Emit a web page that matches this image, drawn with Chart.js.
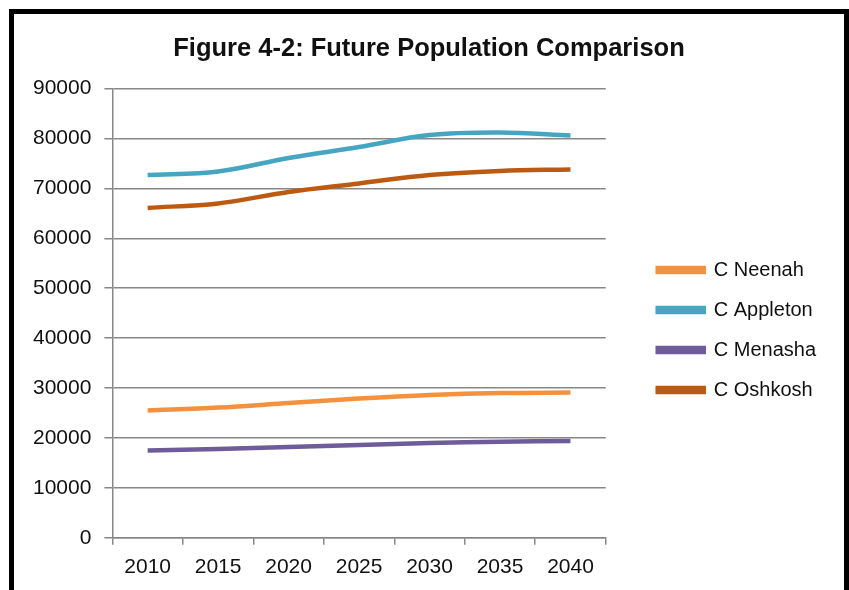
<!DOCTYPE html>
<html>
<head>
<meta charset="utf-8">
<script src="https://cdn.jsdelivr.net/npm/chart.js@4.4.1/dist/chart.umd.min.js"></script>
<style>
  html, body { margin: 0; padding: 0; background: #fff; }
  #wrap { position: relative; width: 849px; height: 590px; overflow: hidden; }
  #cadre { position: absolute; left: 9px; top: 9px; width: 830px; height: 600px;
           border: 5px solid #000; pointer-events: none; }
</style>
</head>
<body>
<div id="wrap">
  <canvas id="grafico" width="849" height="590"></canvas>
  <div id="cadre"></div>
</div>
<script>
// Proyecciones de población
const anios = ['2010', '2015', '2020', '2025', '2030', '2035', '2040'];
const neenah   = [25500, 26100, 27000, 27900, 28600, 29000, 29100];
const appleton = [72700, 73400, 76100, 78300, 80700, 81200, 80600];
const menasha  = [17500, 17800, 18200, 18600, 19000, 19250, 19400];
const oshkosh  = [66100, 67000, 69300, 71000, 72700, 73500, 73800];
const tituloTexto = 'Figure 4-2: Future Population Comparison';

const serie = (label, data, color) => ({
    label, data, borderColor: color, backgroundColor: color,
    borderWidth: 4.5, pointRadius: 0, tension: 0.35, fill: false
});

const gris = '#878787';
const fuente = { family: "'Liberation Sans', Arial, sans-serif", size: 21 };

/** Separa la leyenda del área de trazado y centra el título como en el original */
const moverLeyenda = {
    id: 'moverLeyenda',
    afterLayout(chart) {
        const lg = chart.legend;
        lg.left += 32; lg.right += 32;
        lg.top += 18; lg.bottom += 18;
        const t = chart.titleBlock;
        t.left += 22; t.right += 22;
    }
};

new Chart(document.getElementById('grafico'), {
    type: 'line',
    data: {
        labels: anios,
        datasets: [
            serie('C Neenah', neenah, '#F4913F'),
            serie('C Appleton', appleton, '#46A6C2'),
            serie('C Menasha', menasha, '#6E5C9A'),
            serie('C Oshkosh', oshkosh, '#BD5A12')
        ]
    },
    plugins: [moverLeyenda],
    options: {
        responsive: false, animation: false,
        layout: { padding: { left: 20, right: 55, top: 34, bottom: 0 } },
        plugins: {
            title: {
                display: true, text: tituloTexto, color: '#111',
                font: { family: fuente.family, size: 25.5, weight: 'bold' },
                padding: { top: 0, bottom: 24 }
            },
            legend: {
                position: 'right',
                labels: {
                    color: '#111', font: { family: fuente.family, size: 20 },
                    boxWidth: 46, boxHeight: 4, padding: 20
                }
            },
            tooltip: { enabled: false }
        },
        scales: {
            x: {
                offset: true,
                grid: { offset: true, drawOnChartArea: false, color: gris, lineWidth: 1.5, tickLength: 7 },
                border: { color: gris, width: 1.5 },
                ticks: { color: '#111', font: fuente, padding: 10, maxRotation: 0 }
            },
            y: {
                min: 0, max: 90000,
                grid: { color: gris, lineWidth: 1.5, tickLength: 8 },
                border: { color: gris, width: 1.5 },
                ticks: { color: '#111', font: fuente, padding: 13, stepSize: 10000,
                         callback: v => String(v) }
            }
        }
    }
});
</script>
</body>
</html>
